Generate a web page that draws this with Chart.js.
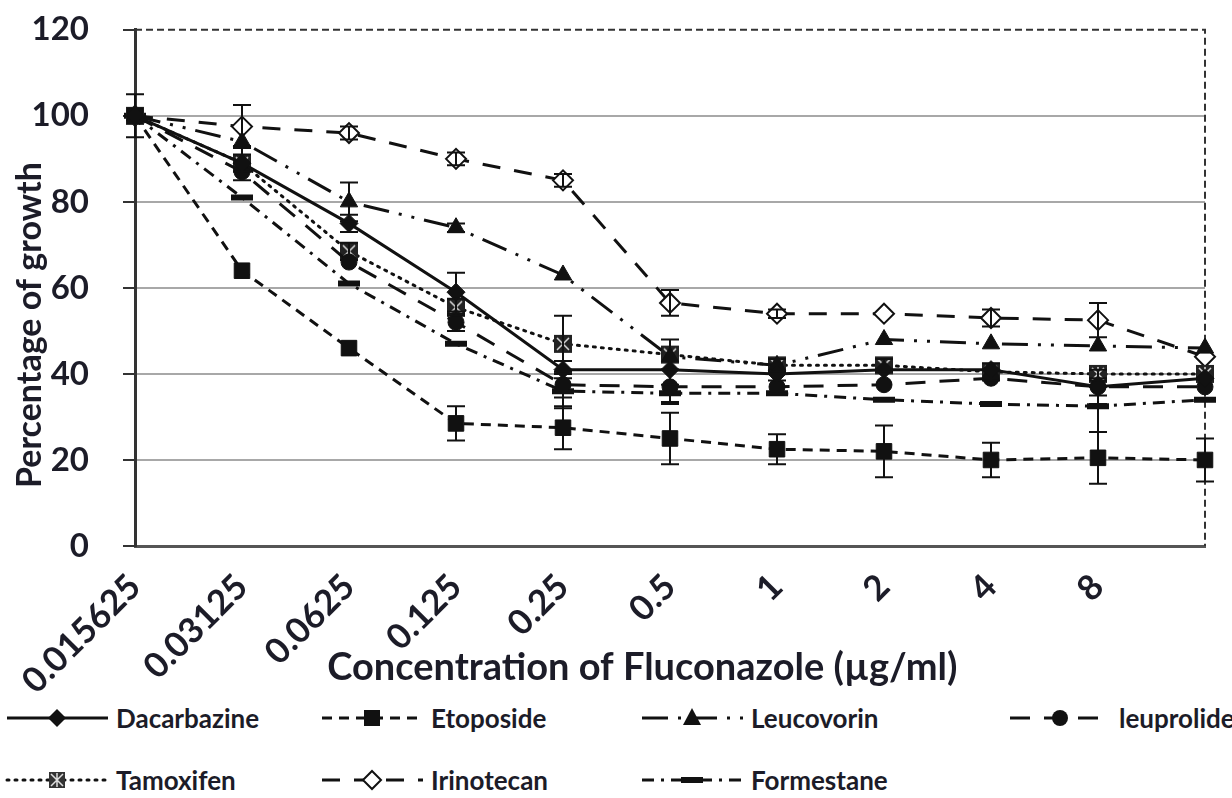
<!DOCTYPE html>
<html lang="en">
<head>
<meta charset="UTF-8">
<title>Percentage of growth vs Fluconazole</title>
<script src="https://cdn.jsdelivr.net/npm/chart.js"></script>
<style>
  body { margin: 0; background: #fff; font-family: Lato, 'Open Sans', sans-serif; overflow: hidden; }
  #wrap { position: relative; width: 1232px; height: 798px; overflow: hidden; }
  #chartBox { position: absolute; left: 0; top: -24px; width: 1232px; height: 724px; }
  .lg { position: absolute; height: 36px; display: flex; align-items: center;
        font-weight: bold; font-size: 26px; color: #1c1c28; white-space: nowrap; }
  .lg svg { margin-right: 6px; }
</style>
</head>
<body>
<div id="wrap">
  <div id="chartBox"><canvas id="growthChart"></canvas></div>
  <div id="legend"></div>
</div>

<script>
// categories (last point has no printed label)
const labels = ['0.015625', '0.03125', '0.0625', '0.125', '0.25', '0.5', '1', '2', '4', '8', ''];
const yTicks = [0, 20, 40, 60, 80, 100, 120];

// percentage of growth
const dacarbazine = [100, 89, 75, 59, 41, 41, 40, 41, 41, 37, 39];
const etoposide   = [100, 64, 46, 28.5, 27.5, 25, 22.5, 22, 20, 20.5, 20];
const leucovorin  = [100, 94, 80, 74, 63, 44, 42, 48, 47, 46.5, 46];
const leuprolide  = [100, 87, 66, 52, 37.5, 37, 37, 37.5, 39, 37, 37];
const tamoxifen   = [100, 89, 68.5, 55.5, 47, 44.5, 42, 42, 40.5, 40, 40];
const irinotecan  = [100, 97.5, 96, 90, 85, 56.5, 54, 54, 53, 52.5, 44];
const formestane  = [100, 81, 61, 47, 36, 35.5, 35.5, 34, 33, 32.5, 34];

// error bars (half width), null = none visible
const dacarbazineErr = [null, 2, 2, 4.5, 2, null, null, null, null, 4, null];
const etoposideErr   = [null, null, null, 4, 5, 6, 3.5, 6, 4, 6, 5];
const leucovorinErr  = [null, null, 4.5, 1, null, null, null, null, null, null, null];
const leuprolideErr  = [null, null, null, 2, 3, 4, 1.5, null, null, 2, null];
const tamoxifenErr   = [5, 4, 2, 2, 6.5, 3.5, 1.5, 1.5, 2, null, null];
const irinotecanErr  = [null, 5, 1.5, 1.5, 1.5, 3, 1, null, 2, 4, null];
const formestaneErr  = [null, null, null, null, 4, 2, null, null, null, 6, null];

const ink = '#111';
const textColor = '#1c1c28';

// Tamoxifen marker: dark square with a light star inside
function tamoxMarker() {
    const c = document.createElement('canvas');
    c.width = 20; c.height = 20;
    const g = c.getContext('2d');
    g.fillStyle = '#222';
    g.fillRect(1, 1, 18, 18);
    g.strokeStyle = '#ddd';
    g.lineWidth = 1.5;
    g.beginPath();
    g.moveTo(10, 3); g.lineTo(10, 17);
    g.moveTo(4, 4); g.lineTo(16, 16);
    g.moveTo(16, 4); g.lineTo(4, 16);
    g.stroke();
    return c;
}

// I-shaped error bars, placed with the y scale
const errorBars = {
    id: 'errorBars',
    afterDatasetsDraw(chart) {
        const ctx = chart.ctx;
        const y = chart.scales.y;
        chart.data.datasets.forEach((ds, i) => {
            if (!ds.errors) return;
            const meta = chart.getDatasetMeta(i);
            meta.data.forEach((pt, j) => {
                const e = ds.errors[j];
                if (e == null) return;
                const v = ds.data[j];
                const top = y.getPixelForValue(v + e);
                const bot = y.getPixelForValue(v - e);
                ctx.save();
                ctx.strokeStyle = ink;
                ctx.lineWidth = 2;
                ctx.beginPath();
                ctx.moveTo(pt.x, top); ctx.lineTo(pt.x, bot);
                ctx.moveTo(pt.x - 9, top); ctx.lineTo(pt.x + 9, top);
                ctx.moveTo(pt.x - 9, bot); ctx.lineTo(pt.x + 9, bot);
                ctx.stroke();
                ctx.restore();
            });
        });
    }
};

// dashed top and right edge of the plot area
const plotBorder = {
    id: 'plotBorder',
    beforeDatasetsDraw(chart) {
        const { ctx, chartArea: a } = chart;
        ctx.save();
        ctx.strokeStyle = '#333';
        ctx.lineWidth = 2;
        ctx.setLineDash([7, 4]);
        ctx.beginPath();
        ctx.moveTo(a.left, a.top);
        ctx.lineTo(a.right, a.top);
        ctx.lineTo(a.right, a.bottom);
        ctx.stroke();
        ctx.restore();
    }
};

const base = { borderColor: ink, backgroundColor: ink, pointBorderColor: ink, borderWidth: 3, fill: false, tension: 0 };

const datasets = [
    { ...base, label: 'Dacarbazine', data: dacarbazine, errors: dacarbazineErr,
      pointStyle: 'rectRot', pointRadius: 9, pointBorderWidth: 1 },
    { ...base, label: 'Etoposide', data: etoposide, errors: etoposideErr, borderDash: [10, 7],
      pointStyle: 'rect', pointRadius: 11, pointBorderWidth: 1 },
    { ...base, label: 'Leucovorin', data: leucovorin, errors: leucovorinErr, borderDash: [26, 10, 3, 10, 3, 10],
      pointStyle: 'triangle', pointRadius: 10, pointBorderWidth: 1 },
    { ...base, label: 'leuprolide', data: leuprolide, errors: leuprolideErr, borderDash: [20, 14],
      pointStyle: 'circle', pointRadius: 8, pointBorderWidth: 1 },
    { ...base, label: 'Tamoxifen', data: tamoxifen, errors: tamoxifenErr, borderDash: [2, 6], borderCapStyle: 'round',
      pointStyle: tamoxMarker(), pointRadius: 10 },
    { ...base, label: 'Irinotecan', data: irinotecan, errors: irinotecanErr, borderDash: [18, 14],
      pointStyle: 'rectRot', pointRadius: 10, pointBorderWidth: 2, backgroundColor: '#fff', pointBackgroundColor: '#fff' },
    { ...base, label: 'Formestane', data: formestane, errors: formestaneErr, borderDash: [12, 7, 3, 7],
      pointStyle: 'line', pointRadius: 11, pointBorderWidth: 6 }
];

new Chart(document.getElementById('growthChart'), {
    type: 'line',
    data: { labels: labels, datasets: datasets },
    options: {
        responsive: true,
        maintainAspectRatio: false,
        animation: false,
        layout: { padding: { left: 0, right: 27, top: 0, bottom: 0 } },
        plugins: { legend: { display: false }, tooltip: { enabled: false } },
        scales: {
            x: {
                ticks: { color: textColor, font: { family: 'Lato', weight: 'bold', size: 35 },
                         maxRotation: 45, minRotation: 45, autoSkip: false, padding: 20 },
                grid: { display: false, drawTicks: false },
                border: { display: true, color: '#555', width: 3 },
                title: { display: true, text: 'Concentration of Fluconazole (µg/ml)\u00A0\u00A0\u00A0\u00A0\u00A0\u00A0', color: textColor,
                         font: { family: 'Lato', weight: 'bold', size: 38 }, padding: { top: 0, bottom: 9 } },
                afterFit: s => { s.height = 724 - 570; s.paddingRight = 0; }
            },
            y: {
                min: 0, max: 120,
                afterBuildTicks: s => { s.ticks = yTicks.map(v => ({ value: v })); },
                ticks: { color: textColor, font: { family: 'Lato', weight: 'bold', size: 33 }, padding: 34 },
                grid: {
                    color: c => (c.tick && (c.tick.value === 0 || c.tick.value === 120)) ? 'rgba(0,0,0,0)' : '#a8a8a8',
                    lineWidth: 2, tickColor: '#333', tickLength: 12, tickWidth: 2
                },
                border: { color: '#333', width: 3 },
                title: { display: true, text: 'Percentage of growth\u00A0\u00A0\u00A0\u00A0\u00A0\u00A0\u00A0\u00A0\u00A0', color: textColor,
                         font: { family: 'Lato', weight: 'bold', size: 34 }, padding: { top: 10, bottom: 0 } },
                afterFit: s => { s.width = 135; }
            }
        }
    },
    plugins: [plotBorder, errorBars]
});

// legend: line sample with marker, then name
function markerSvg(kind) {
    const cx = 52, cy = 18;
    if (kind === 'diamond') return `<polygon points="${cx},${cy-9} ${cx+9},${cy} ${cx},${cy+9} ${cx-9},${cy}" fill="${ink}"/>`;
    if (kind === 'square') return `<rect x="${cx-8}" y="${cy-8}" width="16" height="16" fill="${ink}"/>`;
    if (kind === 'triangle') return `<polygon points="${cx},${cy-10} ${cx+9},${cy+7} ${cx-9},${cy+7}" fill="${ink}"/>`;
    if (kind === 'circle') return `<circle cx="${cx}" cy="${cy}" r="8" fill="${ink}"/>`;
    if (kind === 'open') return `<polygon points="${cx},${cy-9} ${cx+9},${cy} ${cx},${cy+9} ${cx-9},${cy}" fill="#fff" stroke="${ink}" stroke-width="2"/>`;
    if (kind === 'tamox') return `<rect x="${cx-8}" y="${cy-8}" width="16" height="16" fill="#333"/><path d="M${cx} ${cy-7}V${cy+7}M${cx-6} ${cy-6}L${cx+6} ${cy+6}M${cx+6} ${cy-6}L${cx-6} ${cy+6}" stroke="#ddd" stroke-width="1.5"/>`;
    if (kind === 'bar') return `<rect x="${cx-11}" y="${cy-3}" width="22" height="6" fill="${ink}"/>`;
    return '';
}

const legendItems = [
    { name: 'Dacarbazine', dash: '', mark: 'diamond', left: 5, top: 700 },
    { name: 'Etoposide', dash: '10 7', mark: 'square', left: 320, top: 700 },
    { name: 'Leucovorin', dash: '26 10 3 10', mark: 'triangle', left: 640, top: 700 },
    { name: 'leuprolide', dash: '20 14', mark: 'circle', left: 1008, top: 700 },
    { name: 'Tamoxifen', dash: '2 6', mark: 'tamox', left: 5, top: 762 },
    { name: 'Irinotecan', dash: '18 14', mark: 'open', left: 320, top: 762 },
    { name: 'Formestane', dash: '12 7 3 7', mark: 'bar', left: 640, top: 762 }
];

const legendEl = document.getElementById('legend');
legendItems.forEach(it => {
    const div = document.createElement('div');
    div.className = 'lg';
    div.style.left = it.left + 'px';
    div.style.top = it.top + 'px';
    div.innerHTML =
        `<svg width="105" height="36"><line x1="2" y1="18" x2="103" y2="18" stroke="${ink}" stroke-width="3"` +
        (it.dash ? ` stroke-dasharray="${it.dash}"` : '') + (it.mark === 'tamox' ? ' stroke-linecap="round"' : '') +
        `/>${markerSvg(it.mark)}</svg><span>${it.name}</span>`;
    legendEl.appendChild(div);
});
</script>
</body>
</html>
